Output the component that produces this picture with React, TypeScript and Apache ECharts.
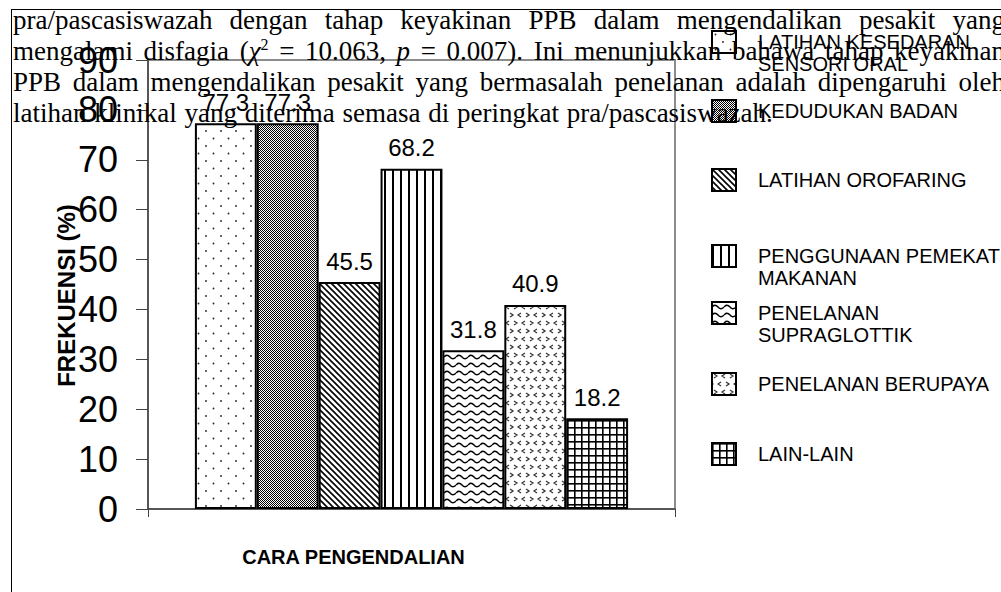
import React, { useEffect, useRef } from 'react';
import * as echarts from 'echarts';

// ---------- data ----------
const categories: string[] = [''];
const seriesNames: string[] = [
  'LATIHAN KESEDARAN\nSENSORI ORAL',
  'KEDUDUKAN BADAN',
  'LATIHAN OROFARING',
  'PENGGUNAAN PEMEKAT\nMAKANAN',
  'PENELANAN\nSUPRAGLOTTIK',
  'PENELANAN BERUPAYA',
  'LAIN-LAIN',
];
const values: number[] = [77.3, 77.3, 45.5, 68.2, 31.8, 40.9, 18.2];
const yAxisTitle = 'FREKUENSI (%)';
const xAxisTitle = 'CARA PENGENDALIAN';
const yMin = 0;
const yMax = 90;
const yStep = 10;
const paragraphLines: string[] = [
  'pra/pascasiswazah dengan tahap keyakinan PPB dalam mengendalikan pesakit yang',
  'mengalami disfagia (*χ*^2 = 10.063, *p* = 0.007). Ini menunjukkan bahawa tahap keyakinan',
  'PPB dalam mengendalikan pesakit yang bermasalah penelanan adalah dipengaruhi oleh',
  'latihan klinikal yang diterima semasa di peringkat pra/pascasiswazah.',
];

// ---------- styling ----------
function svgPattern(w: number, h: number, body: string) {
  const svg = `<svg xmlns="http://www.w3.org/2000/svg" width="${w}" height="${h}" viewBox="0 0 ${w} ${h}"><rect width="${w}" height="${h}" fill="#fff"/>${body}</svg>`;
  return {
    image: 'data:image/svg+xml;charset=utf-8,' + encodeURIComponent(svg),
    repeat: 'repeat',
    imageWidth: w,
    imageHeight: h,
  };
}

const patterns = [
  svgPattern(15, 15, '<circle cx="3.5" cy="3.5" r="0.9" fill="#222"/><circle cx="11" cy="11" r="0.9" fill="#222"/>'),
  svgPattern(2, 2, '<rect width="1" height="1" fill="#000"/><rect x="1" y="1" width="1" height="1" fill="#000"/>'),
  svgPattern(6, 6, '<path d="M-1,-1L7,7M-1,5L1,7M5,-1L7,1" stroke="#000" stroke-width="1.6" fill="none"/>'),
  svgPattern(8, 8, '<rect x="0" y="0" width="2" height="8" fill="#000"/>'),
  svgPattern(12, 8, '<path d="M0,5 Q3,1.5 6,5 T12,5" stroke="#000" stroke-width="1.4" fill="none"/>'),
  svgPattern(16, 16, '<path d="M2,1L5,3L2,5M13,1L10,3L13,5M9,9L6,11L9,13M14,9L17,11L14,13M-2,9L1,11L-2,13" stroke="#333" stroke-width="1.2" fill="none"/>'),
  svgPattern(7, 7, '<rect width="7" height="1.6" fill="#000"/><rect width="1.6" height="7" fill="#000"/>'),
];

const legendIconTops = [31, 99, 168, 245, 302, 372, 442];
const legendLeft = 711;
const legendLineH = 22;

const SERIF = "'Liberation Serif', 'Times New Roman', serif";
const SANS = "'Liberation Sans', Arial, sans-serif";

type Seg = { t: string; it?: boolean; sup?: boolean };

function parseWord(word: string): Seg[] {
  const segs: Seg[] = [];
  const re = /\*([^*]+)\*|\^([^\s*^]+)|([^*^]+)/g;
  let m: RegExpExecArray | null;
  while ((m = re.exec(word))) {
    if (m[1] !== undefined) segs.push({ t: m[1], it: true });
    else if (m[2] !== undefined) segs.push({ t: m[2], sup: true });
    else segs.push({ t: m[3] });
  }
  return segs;
}

function buildParagraph(): any[] {
  const canvas = document.createElement('canvas');
  const ctx = canvas.getContext('2d')!;
  const fs = 27;
  const supFs = 16;
  const fontOf = (s: Seg) =>
    s.sup ? `${supFs}px ${SERIF}` : s.it ? `italic ${fs}px ${SERIF}` : `${fs}px ${SERIF}`;
  const measure = (s: Seg) => {
    ctx.font = fontOf(s);
    return ctx.measureText(s.t).width;
  };
  ctx.font = `${fs}px ${SERIF}`;
  const spaceW = ctx.measureText(' ').width;
  const L = 13;
  const R = 1005;
  const baseline0 = 29.5;
  const lineStep = 30.8;
  const els: any[] = [];
  paragraphLines.forEach((line, li) => {
    const words = line.split(' ').map(parseWord);
    const widths = words.map((segs) => segs.reduce((a, s) => a + measure(s), 0));
    const total = widths.reduce((a, b) => a + b, 0);
    const last = li === paragraphLines.length - 1;
    const gap = last ? spaceW * 1.15 : (R - L - total) / (words.length - 1);
    const base = baseline0 + li * lineStep;
    let x = L;
    words.forEach((segs, wi) => {
      let sx = x;
      segs.forEach((s) => {
        const size = s.sup ? supFs : fs;
        const b = s.sup ? base - 10 : base;
        els.push({
          type: 'text',
          x: sx,
          y: b - 0.3375 * size,
          silent: true,
          z: 100,
          style: {
            text: s.t,
            font: fontOf(s),
            fill: '#000',
            align: 'left',
            verticalAlign: 'middle',
          },
        });
        sx += measure(s);
      });
      x += widths[wi] + gap;
    });
  });
  return els;
}

function buildOption(): any {
  const legends = seriesNames.map((name, i) => {
    const multi = name.indexOf('\n') >= 0;
    const lines = multi ? name.split('\n').length + 1 : 1;
    const boxH = lines * legendLineH;
    const off = Math.max(0, (boxH - 22) / 2);
    return {
      data: [name],
      left: legendLeft,
      top: legendIconTops[i] - off,
      orient: 'vertical',
      padding: 0,
      itemWidth: 24,
      itemHeight: 22,
      icon: 'rect',
      selectedMode: false,
      formatter: (n: string) => (multi ? '\n' + n : n),
      itemStyle: { borderColor: '#000', borderWidth: 2 },
      textStyle: {
        fontFamily: SANS,
        fontSize: 20,
        color: '#000',
        lineHeight: legendLineH,
        padding: [0, 0, 0, 17],
      },
    };
  });

  const frame = [
    {
      type: 'line',
      silent: true,
      z: 90,
      shape: { x1: 11, y1: 9.5, x2: 1001, y2: 9.5 },
      style: { stroke: '#000', lineWidth: 1 },
    },
    {
      type: 'line',
      silent: true,
      z: 90,
      shape: { x1: 11.5, y1: 9, x2: 11.5, y2: 592 },
      style: { stroke: '#000', lineWidth: 1 },
    },
  ];

  return {
    animation: false,
    backgroundColor: '#fff',
    textStyle: { fontFamily: SANS },
    grid: {
      left: 148,
      right: 326,
      top: 60,
      bottom: 83,
      show: true,
      borderColor: '#8c8c8c',
      borderWidth: 2,
      backgroundColor: 'transparent',
    },
    xAxis: {
      type: 'category',
      data: categories,
      axisLine: { lineStyle: { color: '#444', width: 1.5 } },
      axisTick: { show: true, length: 8, lineStyle: { color: '#444' } },
      axisLabel: { show: false },
      name: xAxisTitle,
      nameLocation: 'middle',
      nameGap: 38,
      nameMoveOverlap: false,
      nameTextStyle: {
        fontFamily: SANS,
        fontSize: 20,
        fontWeight: 'bold',
        color: '#000',
        padding: [0, 116, 0, 0],
      },
    },
    yAxis: {
      type: 'value',
      min: yMin,
      max: yMax,
      interval: yStep,
      axisLine: { show: true, lineStyle: { color: '#444', width: 1.5 } },
      axisTick: { show: true, length: 12, lineStyle: { color: '#444' } },
      splitLine: { show: false },
      axisLabel: { fontFamily: SANS, fontSize: 36, color: '#000', margin: 30 },
      name: yAxisTitle,
      nameLocation: 'middle',
      nameGap: 70,
      nameMoveOverlap: false,
      nameRotate: 90,
      nameTextStyle: {
        fontFamily: SANS,
        fontSize: 24,
        fontWeight: 'bold',
        color: '#000',
        padding: [0, 22, 0, 0],
      },
    },
    legend: legends,
    series: seriesNames.map((name, i) => ({
      type: 'bar',
      name,
      data: [values[i]],
      barGap: '0%',
      barCategoryGap: '17.8%',
      itemStyle: { color: patterns[i], borderColor: '#000', borderWidth: 2 },
      label: {
        show: true,
        position: 'top',
        distance: 9,
        fontFamily: SANS,
        fontSize: 24,
        color: '#000',
      },
    })),
    graphic: [...frame, ...buildParagraph()],
  };
}

export default function App() {
  const ref = useRef<HTMLDivElement>(null);
  useEffect(() => {
    const chart = echarts.init(ref.current!, null, { renderer: 'svg' });
    chart.setOption(buildOption());
    return () => chart.dispose();
  }, []);
  return (
    <div
      ref={ref}
      style={{ position: 'absolute', left: 0, top: 0, width: 1001, height: 592, background: '#fff' }}
    />
  );
}
